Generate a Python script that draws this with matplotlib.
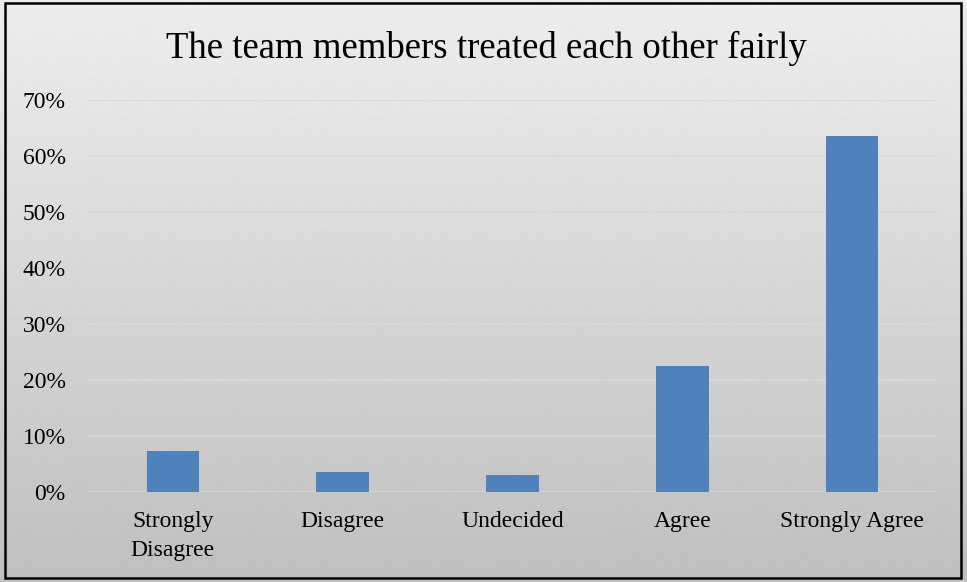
import numpy as np
import matplotlib.pyplot as plt
from matplotlib.patches import Rectangle

plt.rcParams['font.family'] = ['Liberation Serif', 'DejaVu Serif']

categories = ["Strongly\nDisagree", "Disagree", "Undecided", "Agree", "Strongly Agree"]
shares = [7.3, 3.6, 3.0, 22.5, 63.6]
yticks = [0, 10, 20, 30, 40, 50, 60, 70]

fig = plt.figure(figsize=(9.67, 5.82), dpi=100)

# vertical grey gradient behind everything
bg = fig.add_axes([0, 0, 1, 1], zorder=-10)
grad = np.linspace(0.93, 0.75, 256).reshape(-1, 1)
bg.imshow(grad, aspect="auto", cmap="gray", vmin=0, vmax=1,
          extent=[0, 1, 0, 1], transform=bg.transAxes)
bg.set_axis_off()
fig.patches.append(Rectangle((5 / 967, 4 / 582), 956 / 967, 575 / 582,
                             transform=fig.transFigure, fill=False,
                             edgecolor="black", linewidth=1.8))

ax = fig.add_axes([88 / 967, (582 - 492) / 582, (937 - 88) / 967, 392 / 582])
ax.patch.set_alpha(0)
x = np.arange(len(categories))
ax.bar(x, shares, width=0.31, color="#4f81bd", zorder=3)
ax.set_xlim(-0.5, len(categories) - 0.5)
ax.set_ylim(0, 70)
ax.set_yticks(yticks)
ax.set_yticklabels([f"{t}%" for t in yticks], fontsize=17)
ax.set_xticks(x)
ax.set_xticklabels(categories, fontsize=17, linespacing=1.45)
ax.tick_params(length=0)
ax.tick_params(axis="x", pad=14)
ax.tick_params(axis="y", pad=16)
ax.grid(axis="y", color="#d9d9d9", linewidth=1.2, zorder=0)
for s in ax.spines.values():
    s.set_visible(False)

fig.text(486 / 967, 1 - 48 / 582, "The team members treated each other fairly",
         ha="center", va="center", fontsize=26.5)

fig.savefig("out.png", dpi=100)
